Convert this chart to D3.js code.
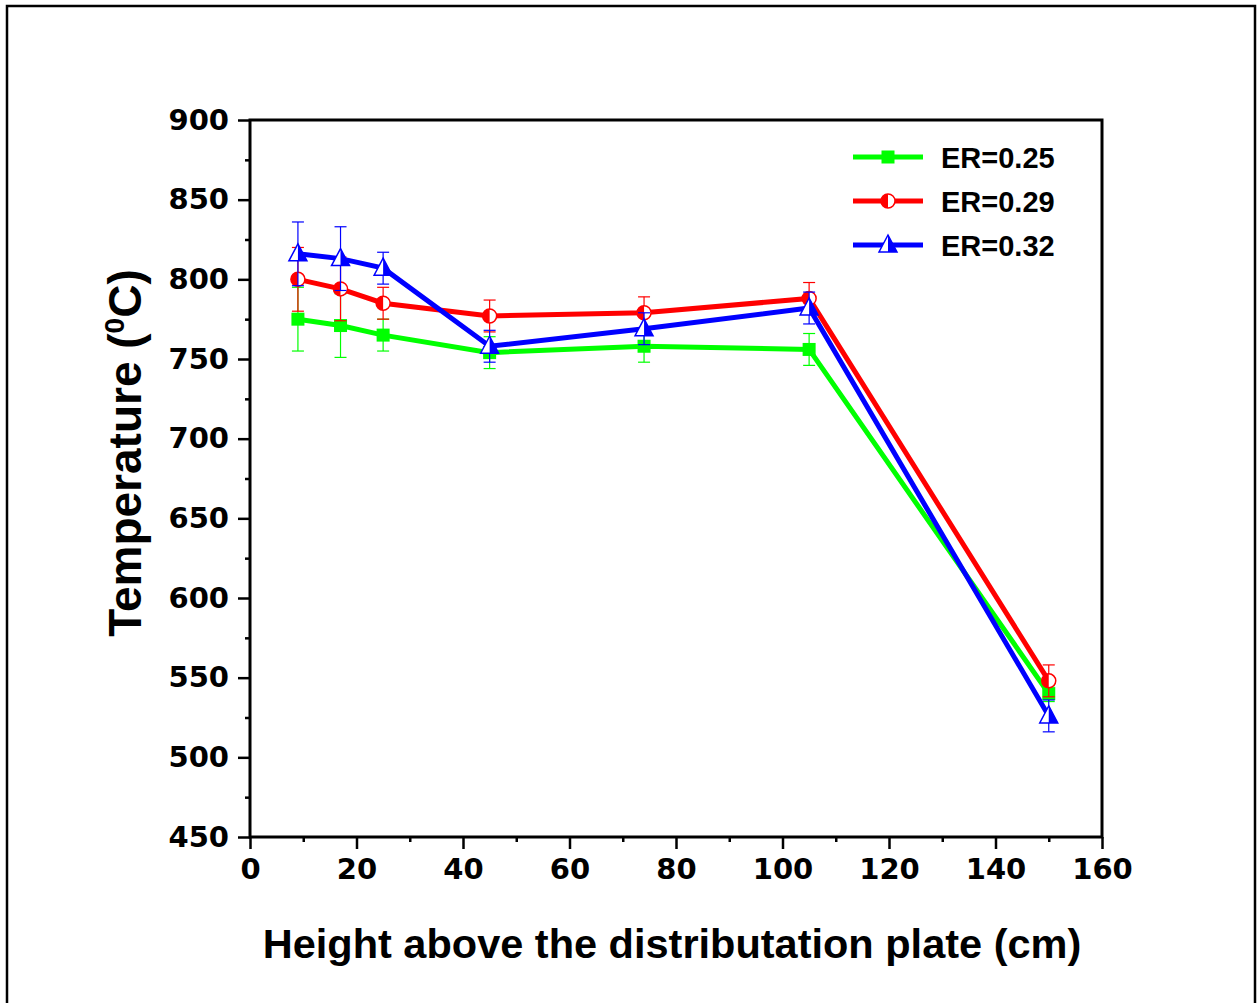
<!DOCTYPE html>
<html>
<head>
<meta charset="utf-8">
<script src="https://cdn.jsdelivr.net/npm/d3@7"></script>
<style>
  body { margin: 0; background: #fff; }
</style>
</head>
<body>
<div id="chart"></div>
<script>
// data
var heights = [9, 17, 25, 45, 74, 105, 150];
var er025 = [775, 771, 765, 754, 758, 756, 540];
var er025Err = [20, 20, 10, 10, 10, 10, 5];
var er029 = [800, 794, 785, 777, 779, 788, 548];
var er029Err = [20, 20, 10, 10, 10, 10, 10];
var er032 = [816, 813, 807, 758, 769, 782, 526];
var er032Err = [20, 20, 10, 10, 10, 10, 10];
var seriesNames = ["ER=0.25", "ER=0.29", "ER=0.32"];
var xTicks = [0, 20, 40, 60, 80, 100, 120, 140, 160];
var yTicks = [450, 500, 550, 600, 650, 700, 750, 800, 850, 900];

var width = 1257, height = 1003;
var plotLeft = 250, plotRight = 1102, plotTop = 120, plotBottom = 837;

var svg = d3.select("#chart").append("svg")
    .attr("width", width)
    .attr("height", height);

// outer frame
svg.append("rect")
    .attr("x", 7).attr("y", 6)
    .attr("width", 1248).attr("height", 1010)
    .style("fill", "none").style("stroke", "black").style("stroke-width", 2.5);

var xScale = d3.scaleLinear().domain([0, 160]).range([plotLeft, plotRight]);
var yScale = d3.scaleLinear().domain([450, 900]).range([plotBottom, plotTop]);

// minor ticks
var xAxisMinor = d3.axisBottom(xScale).tickValues(d3.range(10, 160, 20)).tickSize(5).tickFormat("");
var yAxisMinor = d3.axisLeft(yScale).tickValues(d3.range(475, 900, 50)).tickSize(5).tickFormat("");
svg.append("g").attr("transform", `translate(0,${plotBottom})`).call(xAxisMinor).call(g => g.select(".domain").remove());
svg.append("g").attr("transform", `translate(${plotLeft},0)`).call(yAxisMinor).call(g => g.select(".domain").remove());

var xAxis = d3.axisBottom(xScale).tickValues(xTicks).tickSize(12).tickPadding(9).tickSizeOuter(0);
var yAxis = d3.axisLeft(yScale).tickValues(yTicks).tickSize(12).tickPadding(9).tickSizeOuter(0);

var xg = svg.append("g").attr("transform", `translate(0,${plotBottom})`).call(xAxis);
var yg = svg.append("g").attr("transform", `translate(${plotLeft},0)`).call(yAxis);
[xg, yg].forEach(function (g) {
    g.selectAll(".tick text")
        .style("font-family", "'DejaVu Sans', Verdana, sans-serif")
        .style("font-weight", "bold")
        .style("font-size", "29px").style("fill", "black");
    g.select(".domain").remove();
});
svg.selectAll(".tick line").style("stroke", "black").style("stroke-width", 2.5);

// plot box
svg.append("rect")
    .attr("x", plotLeft).attr("y", plotTop)
    .attr("width", plotRight - plotLeft).attr("height", plotBottom - plotTop)
    .style("fill", "none").style("stroke", "black").style("stroke-width", 3);

// axis titles
svg.append("text")
    .attr("x", 672).attr("y", 958)
    .attr("text-anchor", "middle")
    .style("font-family", "'Liberation Sans', Arial, sans-serif")
    .style("font-weight", "bold").style("font-size", "41.5px")
    .text("Height above the distributation plate (cm)");

var yt = svg.append("text")
    .attr("transform", `translate(141,453) rotate(-90)`)
    .attr("text-anchor", "middle")
    .style("font-family", "'Liberation Sans', Arial, sans-serif")
    .style("font-weight", "bold").style("font-size", "46px");
yt.append("tspan").text("Temperature (");
yt.append("tspan").attr("dy", -17).style("font-size", "28px").text("0");
yt.append("tspan").attr("dy", 17).text("C)");

var series = [
    {name: seriesNames[0], values: er025, err: er025Err, color: "#00ff00", marker: "square"},
    {name: seriesNames[1], values: er029, err: er029Err, color: "#ff0000", marker: "circle"},
    {name: seriesNames[2], values: er032, err: er032Err, color: "#0000ff", marker: "triangle"}
];

var line = d3.line()
    .x(function (d) { return xScale(d.x); })
    .y(function (d) { return yScale(d.y); });

function drawMarker(g, type, color) {
    if (type == "square") {
        g.append("rect").attr("x", -6.5).attr("y", -6.5).attr("width", 13).attr("height", 13)
            .style("fill", color);
    } else if (type == "circle") {
        g.append("circle").attr("r", 7).style("fill", "white").style("stroke", color).style("stroke-width", 1.5);
        g.append("path").attr("d", "M0,-7 A7,7 0 0,0 0,7 Z").style("fill", color);
    } else {
        g.append("path").attr("d", "M0,-10 L9,7 L-9,7 Z").style("fill", "white").style("stroke", color).style("stroke-width", 1.5);
        g.append("path").attr("d", "M0,-10 L9,7 L0,7 Z").style("fill", color);
    }
}

series.forEach(function (s) {
    var pts = heights.map(function (h, i) { return {x: h, y: s.values[i], e: s.err[i]}; });
    var g = svg.append("g");

    // error bars
    var eb = g.selectAll(".err").data(pts).enter().append("g")
        .style("stroke", s.color).style("stroke-width", 1.2);
    eb.append("line")
        .attr("x1", d => xScale(d.x)).attr("x2", d => xScale(d.x))
        .attr("y1", d => yScale(d.y - d.e)).attr("y2", d => yScale(d.y + d.e));
    eb.append("line")
        .attr("x1", d => xScale(d.x) - 6).attr("x2", d => xScale(d.x) + 6)
        .attr("y1", d => yScale(d.y - d.e)).attr("y2", d => yScale(d.y - d.e));
    eb.append("line")
        .attr("x1", d => xScale(d.x) - 6).attr("x2", d => xScale(d.x) + 6)
        .attr("y1", d => yScale(d.y + d.e)).attr("y2", d => yScale(d.y + d.e));

    g.append("path").datum(pts)
        .attr("d", line)
        .style("fill", "none").style("stroke", s.color).style("stroke-width", 5);

    g.selectAll(".mk").data(pts).enter().append("g")
        .attr("transform", d => `translate(${xScale(d.x)},${yScale(d.y)})`)
        .each(function () { drawMarker(d3.select(this), s.marker, s.color); });
});

// legend
var legend = svg.append("g").attr("transform", "translate(853,157)");
series.forEach(function (s, i) {
    var lg = legend.append("g").attr("transform", `translate(0,${i * 44})`);
    lg.append("line").attr("x1", 0).attr("x2", 70).attr("y1", 0).attr("y2", 0)
        .style("stroke", s.color).style("stroke-width", 5);
    var m = lg.append("g").attr("transform", "translate(35,0)");
    drawMarker(m, s.marker, s.color);
    lg.append("text").attr("x", 88).attr("y", 11)
        .style("font-family", "'Liberation Sans', Arial, sans-serif")
        .style("font-weight", "bold").style("font-size", "29px")
        .text(s.name);
});
</script>
</body>
</html>
